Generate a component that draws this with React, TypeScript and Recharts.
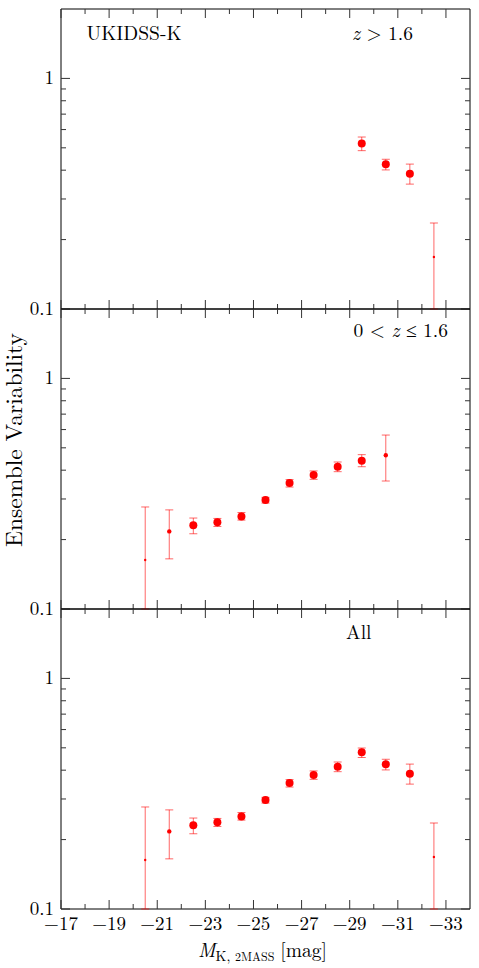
import React from 'react';
import { ScatterChart, Scatter, XAxis, YAxis, ErrorBar, ReferenceArea } from 'recharts';

// x: absolute K magnitude bins, y: ensemble variability (log axis)
const magTicks = [-17, -18, -19, -20, -21, -22, -23, -24, -25, -26, -27, -28, -29, -30, -31, -32, -33];
const varTicks = [0.1, 0.2, 0.3, 0.4, 0.5, 0.6, 0.7, 0.8, 0.9, 1];
const varLabels = [0.1, 1];

// z > 1.6  (lower bounds that run off the axis are cut at 0.1)
const highZMag = [-29.5, -30.5, -31.5, -32.5];
const highZVar = [0.522, 0.424, 0.386, 0.168];
const highZUpper = [0.557, 0.446, 0.425, 0.236];
const highZLower = [0.486, 0.401, 0.348, 0.1];

// 0 < z <= 1.6
const lowZMag = [-20.5, -21.5, -22.5, -23.5, -24.5, -25.5, -26.5, -27.5, -28.5, -29.5, -30.5];
const lowZVar = [0.163, 0.217, 0.231, 0.238, 0.252, 0.297, 0.352, 0.381, 0.414, 0.44, 0.464];
const lowZUpper = [0.277, 0.269, 0.248, 0.247, 0.262, 0.305, 0.364, 0.397, 0.434, 0.467, 0.568];
const lowZLower = [0.1, 0.165, 0.212, 0.228, 0.243, 0.288, 0.338, 0.365, 0.394, 0.414, 0.359];

// all redshifts
const allMag = [-20.5, -21.5, -22.5, -23.5, -24.5, -25.5, -26.5, -27.5, -28.5, -29.5, -30.5, -31.5, -32.5];
const allVar = [0.163, 0.217, 0.231, 0.238, 0.252, 0.297, 0.352, 0.381, 0.414, 0.478, 0.424, 0.386, 0.168];
const allUpper = [0.277, 0.269, 0.248, 0.247, 0.262, 0.305, 0.364, 0.397, 0.434, 0.499, 0.446, 0.425, 0.236];
const allLower = [0.1, 0.165, 0.212, 0.228, 0.243, 0.288, 0.338, 0.365, 0.394, 0.454, 0.401, 0.348, 0.1];

const FONT = "'Latin Modern Roman', 'Liberation Serif', serif";
const PLOT_W = 409;
const PLOT_H = 300;

function buildRows(mag: number[], val: number[], upper: number[], lower: number[]) {
  return mag.map((m, i) => ({ mag: m, v: val[i], err: [val[i] - lower[i], upper[i] - val[i]] }));
}

const highZRows = buildRows(highZMag, highZVar, highZUpper, highZLower);
const lowZRows = buildRows(lowZMag, lowZVar, lowZUpper, lowZLower);
const allRows = buildRows(allMag, allVar, allUpper, allLower);

// marker gets smaller as the relative error grows
const Marker = (props: any) => {
  const { cx, cy, payload } = props;
  if (cx == null || cy == null) return null;
  const rel = (payload.err[0] + payload.err[1]) / payload.v;
  const r = rel < 0.3 ? 4 : rel < 0.6 ? 2.2 : 1.2;
  return <circle cx={cx} cy={cy} r={r} fill="#ff0000" />;
};

const MagTick = (props: any) => {
  const { x, y, payload, showLabels } = props;
  const v = payload.value;
  const major = Math.abs(v) % 2 === 1;
  const len = major ? 9 : 5;
  return (
    <g>
      <line x1={x} x2={x} y1={y} y2={y - len} stroke="#333" strokeWidth={1} />
      <line x1={x} x2={x} y1={y - PLOT_H} y2={y - PLOT_H + len} stroke="#333" strokeWidth={1} />
      {showLabels && major && (
        <text x={x} y={y + 21} textAnchor="middle" style={{ fontFamily: FONT }} fontSize={19} fill="#000">
          {'\u2212' + Math.abs(v)}
        </text>
      )}
    </g>
  );
};

const VarTick = (props: any) => {
  const { x, y, payload } = props;
  const v = payload.value;
  const major = varLabels.includes(v);
  const len = major ? 9 : 5;
  return (
    <g>
      <line x1={x} x2={x + len} y1={y} y2={y} stroke="#333" strokeWidth={1} />
      <line x1={x + PLOT_W} x2={x + PLOT_W - len} y1={y} y2={y} stroke="#333" strokeWidth={1} />
      {major && (
        <text x={x - 7} y={y + 6} textAnchor="end" style={{ fontFamily: FONT }} fontSize={19} fill="#000">
          {v}
        </text>
      )}
    </g>
  );
};

function Panel({ rows, top, showLabels }: { rows: any[]; top: number; showLabels: boolean }) {
  const xAxisH = showLabels ? 59 : 14;
  return (
    <div style={{ position: 'absolute', left: 0, top }}>
      <ScatterChart width={479} height={9 + PLOT_H + xAxisH} margin={{ top: 9, right: 9, bottom: 0, left: 0 }}>
        <XAxis
          type="number"
          dataKey="mag"
          domain={[-34, -17]}
          reversed
          allowDataOverflow
          ticks={magTicks}
          interval={0}
          height={xAxisH}
          tickSize={0}
          tickMargin={0}
          axisLine={false}
          tickLine={false}
          tick={(p: any) => <MagTick {...p} showLabels={showLabels} />}
        />
        <YAxis
          type="number"
          dataKey="v"
          scale="log"
          domain={[0.1, 2]}
          allowDataOverflow
          ticks={varTicks}
          interval={0}
          width={61}
          tickSize={0}
          tickMargin={0}
          axisLine={false}
          tickLine={false}
          tick={(p: any) => <VarTick {...p} />}
        />
        <Scatter data={rows} isAnimationActive={false} shape={Marker} fill="#ff0000">
          <ErrorBar dataKey="err" direction="y" width={4} stroke="#ff0000" strokeOpacity={0.6} strokeWidth={1} />
        </Scatter>
        <ReferenceArea x1={-34} x2={-17} y1={0.1} y2={2} fill="none" stroke="#000" strokeWidth={1} strokeOpacity={1} fillOpacity={0} />
      </ScatterChart>
    </div>
  );
}

export default function App() {
  return (
    <div style={{ position: 'absolute', left: 0, top: 0, width: 479, height: 968, background: '#fff' }}>
      <Panel rows={highZRows} top={0} showLabels={false} />
      <Panel rows={lowZRows} top={300} showLabels={false} />
      <Panel rows={allRows} top={600} showLabels />
      <svg
        width={479}
        height={968}
        style={{ position: 'absolute', left: 0, top: 0, pointerEvents: 'none', fontFamily: FONT }}
      >
        <text x={86.5} y={39.5} fontSize={19.5}>UKIDSS-K</text>
        <text x={413} y={39.5} fontSize={19.5} textAnchor="end">
          <tspan fontStyle="italic">z</tspan> &gt; 1.6
        </text>
        <text x={448} y={337} fontSize={19.5} textAnchor="end">
          0 &lt; <tspan fontStyle="italic">z</tspan> {'\u2264'} 1.6
        </text>
        <text x={346} y={639} fontSize={19.5}>All</text>
        <text x={0} y={0} fontSize={23.5} textAnchor="middle" transform="translate(22 440) rotate(-90)">
          Ensemble Variability
        </text>
        <text x={198} y={957} fontSize={19.5}>
          <tspan fontStyle="italic">M</tspan>
          <tspan fontSize={14} dy={4}>K, </tspan>
          <tspan fontSize={12}>2MASS</tspan>
          <tspan dy={-4} dx={6}>[mag]</tspan>
        </text>
      </svg>
    </div>
  );
}
